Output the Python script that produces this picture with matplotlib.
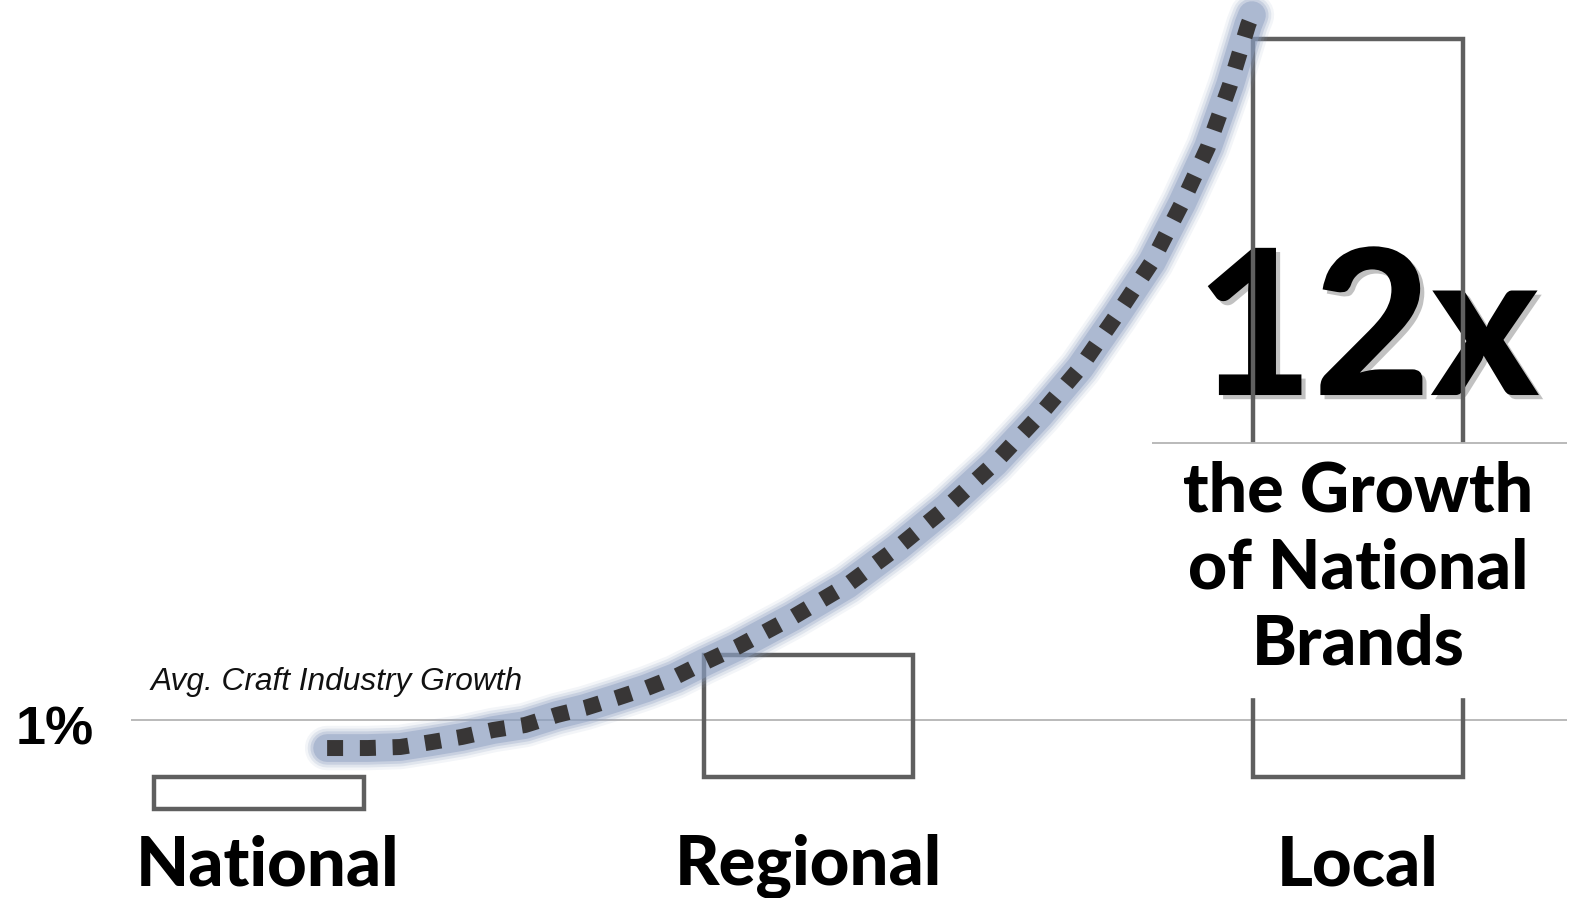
import matplotlib
matplotlib.use("Agg")
import matplotlib.pyplot as plt
import matplotlib.patheffects as pe

# data (growth %)
categories = ["National", "Regional", "Local"]
growth = [-0.56, 2.12, 12.83]
avg_growth = 1.0

# trend curve drawn over the bars
curve_x = [0.124, 0.198, 0.257, 0.315, 0.369, 0.426, 0.484, 0.542, 0.593,
           0.651, 0.706, 0.757, 0.812, 0.870, 0.972, 1.070, 1.163, 1.252,
           1.339, 1.421, 1.494, 1.561, 1.625, 1.680, 1.727, 1.767, 1.800, 1.807]
curve_y = [0.504, 0.504, 0.522, 0.609, 0.696, 0.817, 0.904, 1.078, 1.200,
           1.374, 1.548, 1.739, 2.000, 2.261, 2.783, 3.339, 4.000, 4.696,
           5.461, 6.296, 7.113, 8.035, 8.957, 9.983, 10.957, 12.035, 13.078, 13.25]

callout = ["the Growth", "of National", "Brands"]

bold_font = ["Lato", "DejaVu Sans"]

fig = plt.figure(figsize=(15.8, 8.98), dpi=100)
ax = fig.add_axes([0, 0, 1, 1])
ax.set_xlim(-0.4713, 2.404)
ax.set_ylim(-2.104, 13.513)
ax.axis("off")

x = range(len(categories))
ax.bar(x, growth, width=0.382, facecolor="none", edgecolor="#5f5f5f",
       linewidth=3.2, zorder=3)

# 1% reference line
ax.hlines(avg_growth, -0.233, 2.38, color="#b4b4b4", linewidth=1.3, zorder=1)
ax.text(-0.4430, 0.574, "1%", fontsize=39, fontweight="bold",
        family="Liberation Sans", ha="left", va="baseline", zorder=5)
ax.text(-0.198, 1.513, "Avg. Craft Industry Growth", fontsize=22.8,
        style="italic", family="Liberation Sans", ha="left", va="baseline",
        color="#111111", zorder=5)

# category labels under the bars
for i, name in enumerate(categories):
    ax.text(i + (0.015 if i == 0 else 0), -1.878, name, fontsize=49.5,
            fontweight="black", family=bold_font,
            ha="center", va="baseline", zorder=5)

# big callout
ax.text(2.017, 6.643, "12x", fontsize=146, fontweight="black", family=bold_font,
        ha="center", va="baseline", zorder=2,
        path_effects=[pe.withSimplePatchShadow(offset=(3, -3), shadow_rgbFace="#777777", alpha=0.45)])

# white box hiding the middle of the Local bar
ax.fill_between([1.625, 2.404], 1.391, 5.809, color="white", zorder=4)
ax.hlines(5.809, 1.625, 2.38, color="#b4b4b4", linewidth=1.3, zorder=4)
for yy, line in zip([4.626, 3.287, 1.965], callout):
    ax.text(2.0, yy, line, fontsize=49, fontweight="black", family=bold_font,
            ha="center", va="baseline", zorder=5)

# glowing dotted trend curve
for lw, a in [(32, 0.10), (28, 0.18), (24, 0.28), (20, 0.45)]:
    ax.plot(curve_x, curve_y, color="#8a9dc0", linewidth=lw, alpha=a,
            solid_capstyle="round", solid_joinstyle="round", zorder=6)
ax.plot(curve_x, curve_y, color="#383636", linewidth=11.5,
        dashes=(1.0, 1.05), dash_capstyle="butt", zorder=7)

fig.savefig("out.png", dpi=100, facecolor="white")
